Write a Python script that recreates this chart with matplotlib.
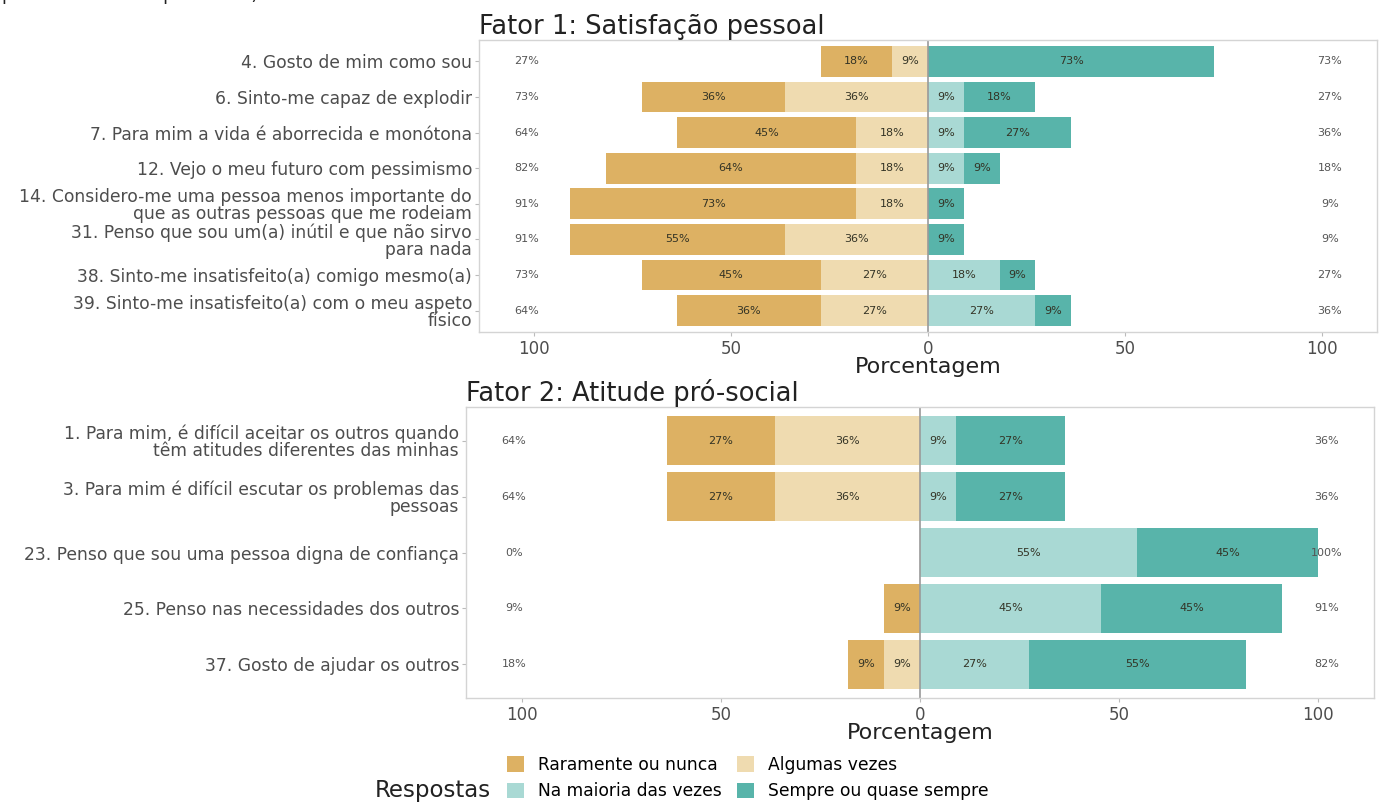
import matplotlib
matplotlib.use("Agg")
import matplotlib.pyplot as plt
from matplotlib.patches import Patch

W, H = 1389, 802

respostas = ["Raramente ou nunca", "Algumas vezes",
             "Na maioria das vezes", "Sempre ou quase sempre"]
cores = ["#DDB163", "#EFDBB0", "#A9D9D4", "#58B4AA"]

# Fator 1
itens_f1 = ["4. Gosto de mim como sou",
            "6. Sinto-me capaz de explodir",
            "7. Para mim a vida é aborrecida e monótona",
            "12. Vejo o meu futuro com pessimismo",
            "14. Considero-me uma pessoa menos importante do\n"
            "que as outras pessoas que me rodeiam",
            "31. Penso que sou um(a) inútil e que não sirvo\npara nada",
            "38. Sinto-me insatisfeito(a) comigo mesmo(a)",
            "39. Sinto-me insatisfeito(a) com o meu aspeto\nfísico"]
raramente_f1 = [18.18, 36.36, 45.45, 63.64, 72.73, 54.55, 45.45, 36.36]
algumas_f1 = [9.09, 36.36, 18.18, 18.18, 18.18, 36.36, 27.27, 27.27]
maioria_f1 = [0, 9.09, 9.09, 9.09, 0, 0, 18.18, 27.27]
sempre_f1 = [72.73, 18.18, 27.27, 9.09, 9.09, 9.09, 9.09, 9.09]

# Fator 2
itens_f2 = ["1. Para mim, é difícil aceitar os outros quando\n"
            "têm atitudes diferentes das minhas",
            "3. Para mim é difícil escutar os problemas das\npessoas",
            "23. Penso que sou uma pessoa digna de confiança",
            "25. Penso nas necessidades dos outros",
            "37. Gosto de ajudar os outros"]
raramente_f2 = [27.27, 27.27, 0, 9.09, 9.09]
algumas_f2 = [36.36, 36.36, 0, 0, 9.09]
maioria_f2 = [9.09, 9.09, 54.55, 45.45, 27.27]
sempre_f2 = [27.27, 27.27, 45.45, 45.45, 54.55]

ticks = [-100, -50, 0, 50, 100]
tick_labels = ["100", "50", "0", "50", "100"]

plt.rcParams['font.family'] = ['DejaVu Sans']


def seg_label(ax, x, y, v):
    if v > 0:
        ax.text(x, y, "%.0f%%" % v, ha='center', va='center',
                fontsize=8, color='#333325')


def draw_panel(ax, titulo, itens, rar, alg, mai, sem, bar_h):
    n = len(itens)
    ys = list(range(1, n + 1))
    for y, r, a, m, s in zip(ys, rar, alg, mai, sem):
        ax.barh(y, -a, left=0, height=bar_h, color=cores[1], lw=0)
        ax.barh(y, -r, left=-a, height=bar_h, color=cores[0], lw=0)
        ax.barh(y, m, left=0, height=bar_h, color=cores[2], lw=0)
        ax.barh(y, s, left=m, height=bar_h, color=cores[3], lw=0)
        seg_label(ax, -a / 2, y, a)
        seg_label(ax, -a - r / 2, y, r)
        seg_label(ax, m / 2, y, m)
        seg_label(ax, m + s / 2, y, s)
        ax.text(-102, y, "%.0f%%" % (r + a), ha='center', va='center',
                fontsize=8, color='#555555')
        ax.text(102, y, "%.0f%%" % (m + s), ha='center', va='center',
                fontsize=8, color='#555555')
    ax.axvline(0, color='#9a9a9a', lw=1.2)
    ax.set_xlim(-114, 114)
    ax.set_ylim(n + 0.6, 0.4)
    ax.set_yticks(ys)
    ax.set_yticklabels(itens, fontsize=12.3, color='#4d4d4d',
                       linespacing=0.95)
    ax.set_xticks(ticks)
    ax.set_xticklabels(tick_labels, fontsize=12, color='#4d4d4d')
    ax.tick_params(axis='both', length=3, color='#bbbbbb', pad=2)
    ax.tick_params(axis='x', pad=3)
    for sp in ax.spines.values():
        sp.set_color('#d4d4d4')
        sp.set_linewidth(1)
    ax.set_xlabel("Porcentagem", fontsize=16, color='#222222',
                  labelpad=-1)
    ax.set_title(titulo, loc='left', fontsize=18.5, color='#222222',
                 pad=2)


fig = plt.figure(figsize=(W / 100, H / 100), dpi=100)
ax1 = fig.add_axes([479 / W, 1 - 332 / H, 898 / W, 292 / H])
ax2 = fig.add_axes([466 / W, 1 - 698 / H, 908 / W, 291 / H])

draw_panel(ax1, "Fator 1: Satisfação pessoal", itens_f1,
           raramente_f1, algumas_f1, maioria_f1, sempre_f1, 0.86)
draw_panel(ax2, "Fator 2: Atitude pró-social", itens_f2,
           raramente_f2, algumas_f2, maioria_f2, sempre_f2, 0.88)

# texto cortado no topo
fig.text(2 / W, 1.0, "pessoal e atitude pró-social)", fontsize=13,
         va='baseline', ha='left', color='#222222')

handles = [Patch(facecolor=c, edgecolor='none') for c in cores]
fig.legend([handles[0], handles[2], handles[1], handles[3]],
           [respostas[0], respostas[2], respostas[1], respostas[3]],
           ncol=2, loc='center left', bbox_to_anchor=(507 / W, 1 - 778 / H),
           frameon=False, fontsize=12.3, handlelength=1.0, handleheight=1.0,
           handletextpad=0.8, columnspacing=0.9, labelspacing=0.5,
           borderaxespad=0, borderpad=0)
fig.text(375 / W, 1 - 791 / H, "Respostas", fontsize=16.5, va='center',
         ha='left', color='#222222')

fig.savefig("out.png", dpi=100)
